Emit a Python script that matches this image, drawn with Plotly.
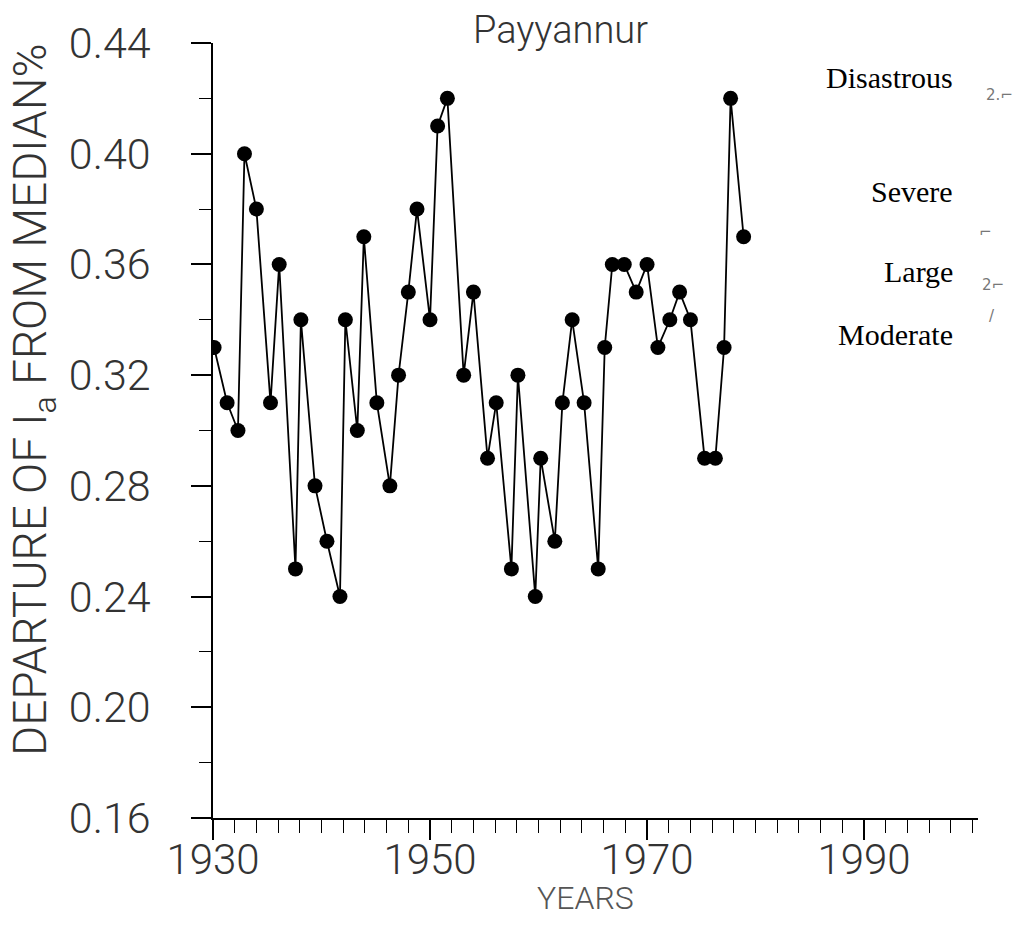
import plotly.graph_objects as go

# Years (positions, approx. one per year 1930-1979)
years = [1930.1, 1931.3, 1932.3, 1932.9, 1934.0, 1935.3, 1936.1, 1937.6, 1938.1, 1939.4,
         1940.5, 1941.7, 1942.2, 1943.3, 1943.9, 1945.1, 1946.3, 1947.1, 1948.0, 1948.8,
         1950.0, 1950.7, 1951.6, 1953.1, 1954.0, 1955.3, 1956.1, 1957.5, 1958.1, 1959.7,
         1960.2, 1961.5, 1962.2, 1963.1, 1964.2, 1965.5, 1966.1, 1966.8, 1967.9, 1969.0,
         1970.0, 1971.0, 1972.1, 1973.0, 1974.0, 1975.3, 1976.3, 1977.1, 1977.7, 1978.9]

departure = [0.33, 0.31, 0.30, 0.40, 0.38, 0.31, 0.36, 0.25, 0.34, 0.28,
             0.26, 0.24, 0.34, 0.30, 0.37, 0.31, 0.28, 0.32, 0.35, 0.38,
             0.34, 0.41, 0.42, 0.32, 0.35, 0.29, 0.31, 0.25, 0.32, 0.24,
             0.29, 0.26, 0.31, 0.34, 0.31, 0.25, 0.33, 0.36, 0.36, 0.35,
             0.36, 0.33, 0.34, 0.35, 0.34, 0.29, 0.29, 0.33, 0.42, 0.37]

x_tick_vals = [1930, 1950, 1970, 1990]
x_tick_text = ["1930", "1950", "1970", "1990"]
y_tick_vals = [0.16, 0.20, 0.24, 0.28, 0.32, 0.36, 0.40, 0.44]
y_tick_text = ["0.16", "0.20", "0.24", "0.28", "0.32", "0.36", "0.40", "0.44"]

category_labels = ["Disastrous", "Severe", "Large", "Moderate"]
category_yfrac = [0.955, 0.808, 0.705, 0.624]  # paper y positions

# small scanned marks to the right of the category labels
mark_texts = ["2.⌐", "⌐", "2⌐", "/"]
mark_pos = [(1000, 95), (985, 232), (993, 285), (992, 316)]

SANS = "Roboto, Lato, Open Sans, sans-serif"
LIGHT = 300
GREY = "#333"

fig = go.Figure()
fig.add_trace(go.Scatter(
    x=years, y=departure, mode="lines+markers",
    line=dict(color="black", width=1.8),
    marker=dict(color="black", size=15),
    showlegend=False,
))

fig.update_layout(
    width=1028, height=927,
    margin=dict(l=213, r=50, t=43, b=109),
    paper_bgcolor="white", plot_bgcolor="white",
    font=dict(family=SANS, color="black"),
)

fig.update_xaxes(
    range=[1930, 2000.5], showgrid=False, zeroline=False,
    showline=True, linecolor="black", linewidth=1.5,
    tickmode="array", tickvals=x_tick_vals, ticktext=x_tick_text,
    ticks="outside", ticklen=20, tickwidth=1.5, tickcolor="black",
    minor=dict(tickmode="linear", tick0=1930, dtick=2, ticks="outside",
               ticklen=13, tickwidth=1.2, tickcolor="black", showgrid=False),
    tickfont=dict(size=42, family=SANS, color=GREY, weight=LIGHT),
    ticklabelstandoff=-16,
)
fig.update_yaxes(
    range=[0.16, 0.44], showgrid=False, zeroline=False,
    showline=True, linecolor="black", linewidth=1.5,
    tickmode="array", tickvals=y_tick_vals, ticktext=y_tick_text,
    ticks="outside", ticklen=20, tickwidth=1.5, tickcolor="black",
    minor=dict(tickmode="linear", tick0=0.16, dtick=0.02, ticks="outside",
               ticklen=12, tickwidth=1.2, tickcolor="black", showgrid=False),
    tickfont=dict(size=43, family=SANS, color=GREY, weight=LIGHT),
    ticklabelstandoff=32,
)

# Title
fig.add_annotation(text="Payyannur", xref="paper", yref="paper",
                   x=(560 - 213) / 765, y=1 + (43 - 30) / 775,
                   xanchor="center", yanchor="middle", showarrow=False,
                   font=dict(size=38, family=SANS, color=GREY, weight=LIGHT))
# Axis titles
fig.add_annotation(text="YEARS", xref="paper", yref="paper",
                   x=(585 - 213) / 765, y=-(898 - 818) / 775,
                   xanchor="center", yanchor="middle", showarrow=False,
                   font=dict(size=32, family=SANS, color="#555", weight=LIGHT))
fig.add_annotation(text="DEPARTURE OF I<sub>a</sub> FROM MEDIAN%", xref="paper", yref="paper",
                   x=-(213 - 33) / 765, y=(818 - 400) / 775, textangle=-90,
                   xanchor="center", yanchor="middle", showarrow=False,
                   font=dict(size=46, family=SANS, color=GREY, weight=LIGHT))
# Category labels
for lab, yf in zip(category_labels, category_yfrac):
    fig.add_annotation(text=lab, xref="paper", yref="paper",
                       x=(955 - 213) / 765, y=yf, xanchor="right", yanchor="middle",
                       showarrow=False,
                       font=dict(size=30, family="Liberation Serif, Times New Roman, serif",
                                 color="black"))
# Scanned marks
for t, (px, py) in zip(mark_texts, mark_pos):
    fig.add_annotation(text=t, xref="paper", yref="paper",
                       x=(px - 213) / 765, y=(818 - py) / 775,
                       xanchor="center", yanchor="middle", showarrow=False,
                       font=dict(size=15, family="DejaVu Sans", color="#777"))

fig.write_html("out.html")
